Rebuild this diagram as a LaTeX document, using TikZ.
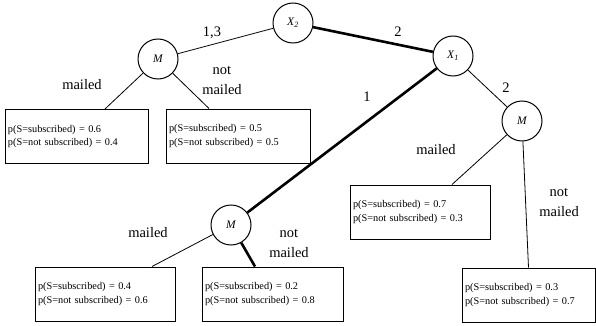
\documentclass[tikz,border=0pt]{standalone}
\usepackage{fontspec}
\setmainfont{Liberation Serif}
\usepackage{tikz}
\usetikzlibrary{positioning}
\tikzset{
  stnode/.style={draw,circle,line width=1pt,minimum size=40pt,inner sep=0pt,
    font=\fontsize{11.5}{12}\selectfont\itshape},
  pbox/.style={draw,line width=1pt,text width=134pt,minimum height=54pt,
    inner sep=3pt,align=left,font=\fontsize{10.3}{13.5}\selectfont},
  lbl/.style={font=\fontsize{14.5}{20}\selectfont,align=center,inner sep=0pt},
  edgeT/.style={line width=0.8pt},
  edgeK/.style={line width=2.6pt},
}
\begin{document}
\begin{tikzpicture}[x=1pt,y=-1pt]
  \useasboundingbox (0,0) rectangle (596,326);
  % decision nodes
  \node[stnode] (x2) at (293,23) {X\textsubscript{2}};
  \node[stnode] (x1) at (453,56) {X\textsubscript{1}};
  \node[stnode] (m1) at (158,59) {M};
  \node[stnode] (m2) at (522,121) {M};
  \node[stnode] (m3) at (231,225) {M};
  % leaves
  \node[pbox,text width=137pt] (b1) at (76.5,136.5) {p(S=subscribed) = 0.6\\p(S=not subscribed) = 0.4};
  \node[pbox,text width=138pt] (b2) at (238,136) {p(S=subscribed) = 0.5\\p(S=not subscribed) = 0.5};
  \node[pbox,text width=134pt] (b3) at (420,212) {p(S=subscribed) = 0.7\\p(S=not subscribed) = 0.3};
  \node[pbox,text width=134pt] (b4) at (105,294) {p(S=subscribed) = 0.4\\p(S=not subscribed) = 0.6};
  \node[pbox,text width=135pt] (b5) at (272.5,294) {p(S=subscribed) = 0.2\\p(S=not subscribed) = 0.8};
  \node[pbox,text width=127pt] (b6) at (528.5,295) {p(S=subscribed) = 0.3\\p(S=not subscribed) = 0.7};
  % branches
  \draw[edgeT] (x2) -- (m1);
  \draw[edgeK] (x2) -- (x1);
  \draw[edgeK] (x1) -- (m3);
  \draw[edgeT] (x1) -- (m2);
  \draw[edgeT] (m1) -- ([xshift=28.5pt]b1.north);
  \draw[edgeT] (m1) -- ([xshift=-29pt]b2.north);
  \draw[edgeT] (m2) -- ([xshift=32pt]b3.north);
  \draw[edgeT] (m2) -- (b6.north);
  \draw[edgeT] (m3) -- ([xshift=47pt]b4.north);
  \draw[edgeK] (m3) -- ([xshift=-17.5pt]b5.north);
  % branch labels
  \node[lbl] (l13) at (212,33) {1,3};
  \node[lbl] (l2a) at (398,32) {2};
  \node[lbl] (l1) at (367,97) {1};
  \node[lbl] (l2b) at (506,88) {2};
  \node[lbl] (ml1) at (82,85) {mailed};
  \node[lbl] (nm1) at (222,80) {not\\mailed};
  \node[lbl] (ml2) at (436,150) {mailed};
  \node[lbl] (nm2) at (559,202) {not\\mailed};
  \node[lbl] (ml3) at (148,233) {mailed};
  \node[lbl] (nm3) at (289,243) {not\\mailed};
\end{tikzpicture}
\end{document}
